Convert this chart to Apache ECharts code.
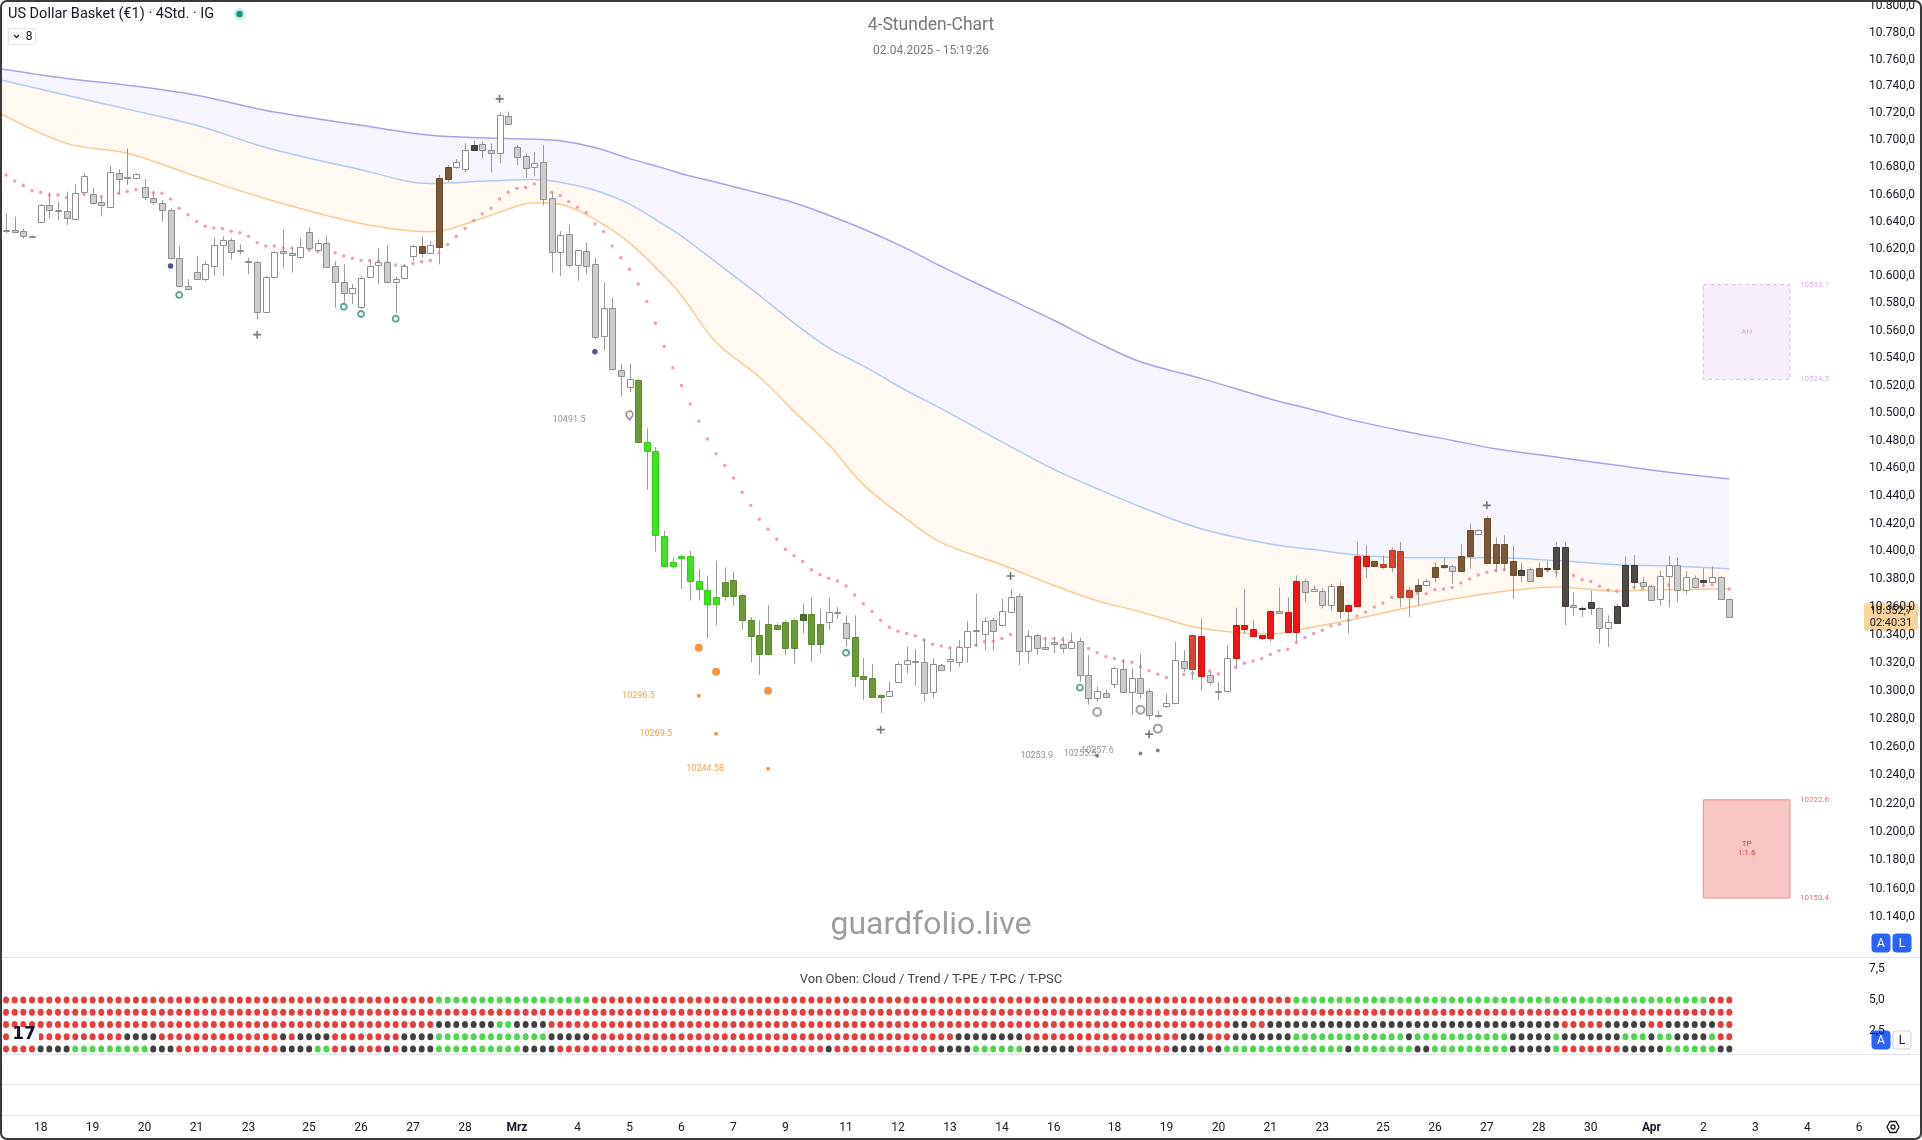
<!DOCTYPE html>
<html><head><meta charset="utf-8">
<script src="https://cdn.jsdelivr.net/npm/echarts@6/dist/echarts.min.js"></script>
<style>html,body{margin:0;padding:0;background:#fff;overflow:hidden}#c{width:1922px;height:1140px}</style>
</head><body><div id="c"></div>
<script>
// ---------- DATA (prices, log-scaled price axis) ----------
const opens = [10634.2,10633.6,10633.0,10629.2,10639.7,10652.0,10648.3,10647.5,10642.2,10661.6,
10660.2,10654.2,10651.1,10675.7,10672.6,10671.9,10665.2,10657.3,10653.7,10648.5,
10613.0,10592.6,10603.1,10597.7,10607.4,10622.5,10626.8,10619.0,10611.0,10610.5,
10573.9,10599.5,10618.7,10617.0,10613.9,10632.3,10619.4,10624.4,10607.4,10595.8,
10587.9,10577.5,10599.4,10608.3,10610.5,10595.8,10598.9,10614.7,10622.3,10617.0,
10621.6,10671.4,10680.5,10678.8,10693.0,10697.0,10693.0,10690.7,10717.8,10695.4,
10688.3,10680.5,10684.3,10657.3,10617.5,10630.9,10607.9,10618.2,10608.6,10556.4,
10576.5,10531.5,10518.9,10524.2,10479.3,10472.1,10411.1,10392.0,10396.8,10396.8,
10378.7,10372.4,10367.0,10367.8,10367.8,10368.7,10350.5,10339.7,10326.2,10347.4,
10349.3,10330.8,10350.5,10355.2,10333.3,10349.3,10356.4,10348.5,10338.6,10310.7,
10309.0,10296.8,10296.0,10306.6,10319.0,10321.4,10320.4,10299.2,10318.5,10321.4,
10320.9,10331.2,10342.6,10340.3,10350.5,10347.4,10356.4,10367.8,10328.4,10339.8,
10331.4,10335.0,10333.8,10330.8,10335.5,10311.3,10294.8,10298.7,10304.7,10315.9,
10299.2,10309.0,10299.6,10283.0,10289.5,10291.3,10321.2,10315.6,10339.3,10311.3,
10299.6,10299.6,10323.6,10346.9,10344.5,10339.8,10338.1,10357.1,10356.4,10342.1,
10378.4,10371.7,10371.7,10361.1,10374.8,10356.8,10360.5,10396.8,10392.7,10390.8,
10389.0,10400.3,10367.0,10371.5,10375.5,10381.3,10390.3,10389.7,10385.6,10396.3,
10412.2,10391.5,10405.1,10391.8,10393.2,10386.8,10387.3,10382.0,10388.3,10387.3,
10403.2,10361.5,10359.5,10359.2,10359.2,10344.9,10348.2,10361.0,10390.2,10377.7,
10375.3,10365.8,10382.5,10390.3,10372.2,10380.6,10379.4,10378.2,10381.3,10365.8];
const highs = [10646.3,10643.7,10634.6,10629.9,10652.8,10661.6,10654.9,10662.1,10667.6,10675.7,
10664.7,10658.5,10681.2,10678.8,10694.2,10675.7,10671.4,10662.8,10656.1,10649.9,
10622.0,10597.7,10614.7,10611.0,10628.5,10629.2,10628.0,10623.2,10613.5,10611.0,
10600.1,10618.2,10634.0,10620.6,10628.0,10635.9,10626.8,10630.0,10611.0,10608.6,
10594.1,10600.0,10611.0,10620.6,10622.8,10599.4,10608.6,10622.8,10629.0,10625.6,
10674.5,10681.7,10686.2,10697.8,10699.8,10699.0,10697.8,10720.9,10721.4,10696.6,
10690.3,10691.5,10696.6,10662.3,10633.0,10637.8,10619.4,10624.4,10613.4,10595.3,
10584.3,10535.8,10535.8,10524.7,10488.9,10475.2,10414.7,10395.6,10397.1,10400.3,
10387.3,10382.5,10393.2,10388.4,10384.9,10369.5,10352.7,10350.5,10361.1,10348.1,
10350.5,10351.6,10362.2,10367.0,10358.7,10367.0,10359.9,10354.0,10354.0,10323.6,
10319.2,10297.7,10306.6,10320.4,10331.4,10329.8,10337.4,10323.1,10319.2,10330.3,
10336.2,10350.0,10369.4,10352.8,10352.1,10365.8,10372.9,10369.5,10343.3,10340.9,
10337.4,10338.6,10338.6,10341.6,10337.9,10325.5,10303.0,10300.8,10317.3,10322.6,
10316.1,10326.2,10301.8,10285.8,10297.7,10335.0,10329.1,10340.3,10352.0,10313.7,
10306.6,10332.6,10359.5,10372.9,10350.5,10340.2,10357.6,10374.1,10367.0,10382.5,
10380.1,10375.3,10373.4,10376.5,10377.7,10362.2,10406.3,10404.4,10393.2,10396.8,
10402.7,10406.8,10374.1,10380.1,10380.1,10392.0,10394.9,10390.2,10405.1,10419.9,
10415.9,10425.3,10409.9,10411.5,10403.9,10392.0,10388.3,10392.0,10393.2,10406.8,
10406.8,10370.5,10360.6,10371.7,10359.7,10354.0,10362.2,10396.3,10397.3,10381.3,
10375.8,10386.1,10396.8,10395.6,10385.6,10382.5,10387.8,10389.2,10382.0,10366.3];
const lows = [10631.6,10631.6,10627.4,10628.4,10639.5,10642.7,10641.4,10637.6,10641.4,10660.9,
10652.5,10643.9,10650.4,10659.7,10667.1,10671.1,10656.1,10652.5,10640.2,10612.3,
10592.2,10590.0,10597.0,10596.0,10600.1,10600.0,10612.2,10615.8,10601.4,10568.5,
10573.4,10598.4,10606.2,10602.6,10612.3,10618.2,10617.0,10606.2,10577.0,10580.6,
10579.4,10575.7,10599.0,10594.1,10594.6,10572.7,10598.4,10611.5,10613.4,10616.4,
10608.6,10669.5,10679.3,10676.4,10692.2,10686.7,10676.4,10683.1,10711.3,10681.7,
10672.6,10673.3,10652.0,10602.6,10600.1,10606.2,10596.5,10601.4,10554.0,10545.5,
10531.1,10511.8,10515.3,10478.1,10444.5,10399.7,10388.5,10387.4,10372.9,10364.6,
10364.6,10337.4,10346.9,10364.5,10361.1,10344.0,10320.4,10311.3,10325.5,10343.3,
10325.5,10319.7,10340.9,10320.9,10326.7,10343.3,10351.6,10331.4,10303.0,10293.7,
10294.8,10284.2,10296.0,10305.9,10312.5,10303.8,10292.4,10294.8,10314.2,10313.7,
10317.3,10320.4,10331.4,10329.1,10329.1,10346.1,10356.4,10318.5,10319.7,10325.5,
10329.1,10326.7,10326.7,10330.3,10306.6,10290.2,10292.4,10294.9,10301.8,10298.4,
10283.0,10294.8,10279.6,10280.8,10287.8,10290.5,10313.7,10307.8,10300.1,10303.8,
10293.6,10299.1,10316.1,10340.9,10338.6,10336.2,10335.0,10355.2,10341.6,10335.0,
10363.5,10371.0,10358.7,10357.6,10351.6,10340.9,10360.5,10380.6,10389.0,10387.3,
10384.9,10359.9,10352.8,10361.0,10374.8,10377.7,10387.3,10376.5,10384.9,10387.3,
10411.5,10390.8,10384.9,10386.1,10365.8,10377.7,10378.2,10381.3,10384.9,10381.3,
10346.9,10354.0,10352.8,10354.4,10333.8,10331.4,10348.0,10360.5,10372.4,10374.8,
10364.9,10361.0,10359.9,10363.5,10369.5,10373.4,10374.8,10377.2,10365.3,10352.0];
const closes = [10633.6,10632.6,10629.2,10629.0,10652.5,10648.5,10647.9,10642.7,10660.9,10674.0,
10653.7,10652.0,10676.4,10671.2,10672.3,10675.0,10657.8,10654.4,10648.7,10613.0,
10592.9,10590.5,10597.7,10608.6,10622.8,10626.8,10617.8,10618.6,10610.8,10573.9,
10599.4,10617.8,10617.0,10615.4,10621.1,10620.6,10624.4,10606.7,10595.3,10587.9,
10591.2,10598.9,10607.4,10610.3,10595.3,10598.2,10607.4,10621.8,10617.3,10622.5,
10671.9,10680.5,10684.3,10693.0,10696.6,10693.0,10691.0,10718.5,10711.8,10687.4,
10679.8,10683.5,10656.8,10617.5,10630.4,10607.9,10619.0,10607.4,10555.2,10576.5,
10532.3,10526.6,10524.9,10478.8,10472.6,10411.8,10389.2,10389.2,10395.3,10378.7,
10372.9,10362.2,10362.0,10378.2,10379.6,10350.5,10339.3,10326.2,10347.6,10344.0,
10330.8,10350.5,10355.2,10333.3,10348.1,10356.4,10356.6,10337.8,10310.8,10308.8,
10295.3,10295.6,10300.1,10319.0,10321.9,10320.4,10298.4,10319.2,10314.9,10323.1,
10331.4,10342.6,10343.7,10349.7,10342.6,10357.1,10367.0,10328.4,10339.1,10330.8,
10329.8,10333.8,10330.8,10335.0,10311.3,10294.8,10299.6,10295.6,10316.6,10299.2,
10309.5,10298.4,10283.0,10282.8,10291.2,10321.9,10316.6,10339.8,10310.8,10306.2,
10299.4,10323.8,10346.9,10344.5,10339.3,10338.1,10357.1,10355.6,10342.1,10378.9,
10370.5,10372.9,10361.1,10374.8,10356.8,10361.1,10396.8,10389.7,10389.7,10389.0,
10401.0,10367.0,10372.4,10375.8,10378.4,10388.5,10388.5,10386.1,10396.8,10415.1,
10415.1,10424.1,10391.5,10405.6,10383.2,10383.2,10378.9,10388.3,10387.1,10403.2,
10361.0,10359.7,10358.7,10363.9,10344.9,10349.2,10360.6,10390.2,10377.7,10375.3,
10365.3,10382.5,10390.3,10372.2,10381.3,10374.1,10378.2,10381.3,10365.8,10352.7];
// candle colour codes: g gray, w white, b brown, d dark, G bright green, o olive, D dark olive, R red, r orange-red
const candleStyle = 'ggggwgggww'+'ggwggwgggg'+'gggwwwgggg'+'wwggwgwggg'+'wwwwgwwwbw'+
'bbwwdggwgg'+'gwggwgwggw'+'ggwoGGGGGG'+'GGGooooooo'+'ooDoowwgoo'+
'oowwwggwgw'+'wwwwgwwgwg'+'gggwggwgwg'+'wgggwwgrRg'+'gwRRRRRgRR'+
'gwgwbRRRbr'+'rrrbwbbgbb'+'wbbbbdgbdd'+'dgddgwdddg'+'gwwgwgdwgg';
// pink dotted average
const pinkDots = [10674.5,10670.0,10666.6,10662.8,10661.6,10659.7,10659.7,10657.8,10659.7,10660.2,
10659.0,10658.5,10659.2,10660.9,10662.3,10663.5,10661.6,10660.9,10660.9,10656.6,
10649.9,10645.1,10640.2,10636.6,10635.4,10634.9,10633.0,10631.8,10629.2,10624.4,
10622.0,10622.0,10620.6,10620.6,10619.4,10619.4,10618.2,10619.0,10617.1,10614.7,
10613.0,10611.5,10611.5,10611.0,10609.8,10608.1,10607.4,10609.3,10610.5,10611.5,
10617.0,10623.2,10629.0,10634.9,10640.7,10645.8,10649.9,10656.6,10661.6,10664.7,
10665.2,10667.8,10667.1,10661.6,10659.2,10654.9,10650.6,10646.8,10638.3,10632.6,
10622.0,10613.5,10605.0,10594.1,10581.4,10565.4,10548.4,10532.9,10520.1,10506.5,
10494.1,10481.2,10470.4,10462.0,10452.9,10442.6,10433.0,10423.0,10415.9,10408.7,
10401.5,10396.8,10392.7,10386.8,10383.2,10380.6,10378.7,10375.0,10368.5,10362.3,
10356.8,10350.5,10345.4,10342.6,10340.9,10339.3,10336.2,10333.3,10332.1,10330.8,
10330.8,10331.4,10332.6,10335.0,10335.5,10337.4,10340.3,10339.3,10338.6,10338.6,
10337.4,10337.4,10336.7,10335.5,10334.5,10330.3,10327.2,10324.3,10323.1,10321.2,
10320.4,10317.3,10314.4,10311.8,10309.5,10312.5,10311.6,10312.5,10312.9,10314.2,
10312.0,10314.9,10316.6,10319.7,10321.4,10323.1,10326.0,10328.6,10329.8,10334.5,
10338.1,10340.9,10343.3,10346.4,10347.6,10350.4,10353.5,10356.3,10359.9,10362.9,
10367.0,10368.2,10369.4,10369.9,10369.4,10372.4,10372.9,10373.9,10377.2,10380.1,
10383.0,10384.9,10386.1,10386.8,10386.8,10386.1,10386.1,10386.1,10386.1,10384.9,
10383.7,10382.5,10379.6,10378.2,10374.8,10372.2,10371.2,10372.2,10374.1,10373.4,
10374.1,10374.8,10375.8,10375.4,10375.4,10375.4,10375.3,10376.0,10375.3,10372.9];
// cloud lines read at common bar positions
const cloudX     = [-0.7,7,14,22,30,41,49,56,61,64,68,72,76,78,82,87,91,95,99,104,108,115,121,126,131,138,146,151,156,162,167,172,179,186,192,199];
const purpleLine = [10753.2,10746.0,10741.0,10733.5,10722.2,10711.2,10703.8,10701.8,10700.8,10699.8,10694.8,10686.5,10679.3,10675.3,10669.1,10660.9,10653.9,10644.7,10634.6,10620.2,10607.1,10585.8,10567.6,10551.5,10537.3,10525.2,10510.2,10502.2,10494.1,10486.1,10480.1,10474.1,10468.1,10462.1,10457.1,10452.1];
const blueLine   = [10745.0,10733.5,10723.2,10711.2,10694.8,10678.3,10668.1,10670.1,10671.1,10669.1,10663.1,10652.9,10637.6,10629.4,10610.1,10585.8,10565.6,10547.4,10534.3,10516.2,10503.2,10479.1,10459.1,10445.1,10432.1,10416.2,10405.2,10401.2,10397.3,10395.3,10395.3,10395.3,10393.3,10390.3,10389.4,10387.4];
const orangeLine = [10720.2,10697.8,10690.5,10673.3,10656.9,10638.6,10632.6,10644.7,10653.9,10652.9,10641.7,10624.4,10600.0,10585.8,10551.5,10526.2,10501.2,10477.1,10448.1,10423.1,10406.2,10390.3,10375.4,10364.5,10356.6,10344.7,10340.7,10345.7,10351.6,10359.6,10365.5,10370.4,10374.4,10371.4,10372.4,10372.9];
// markers
const crossIdx = [29,57,101,116,132,171];
const crossVal = [10557.1,10730.8,10272.4,10382.2,10269.2,10433.1];
const tealIdx = [20,39,41,45,97,124];
const tealVal = [10586.2,10577.5,10572.2,10568.8,10327.2,10302.3];
const navyIdx = [19,68];
const navyVal = [10607.4,10544.6];
const ringIdx = [126,131,133];
const ringVal = [10284.9,10286.5,10273.1];
const orangeBigIdx = [80,82,88];
const orangeBigVal = [10330.8,10313.7,10300.1];
const orangeLblIdx = [80,82,88];
const orangeLblVal = [10296.5,10269.5,10244.58];
const grayLblIdx = [126,131,133];
const grayLblVal = [10253.9,10255.5,10257.6];
const pinIdx = [72];
const pinVal = [10491.5];
// boxes
const boxText = ['AH','TP\n1:1.6'];
const boxStart = [196,196];
const boxEnd = [206,206];
const boxTop = [10593.7,10222.6];
const boxBottom = [10524.5,10153.4];
// indicator rows (run lengths, top row first)
const row1Runs = [['r',50],['g',18],['r',81],['g',48],['r',3]];
const row2Runs = [['r',200]];
const row3Runs = [['r',50],['k',7],['g',2],['k',4],['r',79],['k',2],['r',2],['k',34],['r',5],['k',5],['r',2],['k',6],['r',2]];
const row4Runs = [['r',14],['k',4],['r',14],['k',1],['r',1],['k',4],['r',8],['k',4],['g',13],['k',5],['r',42],['k',8],['r',18],['k',3],['r',3],['k',7],['g',13],['k',1],['g',11],['k',5],['g',1],['k',7],['g',3],['k',1],['g',2],['k',4],['g',1],['r',2]];
const row5Runs = [['r',4],['k',4],['g',9],['k',3],['r',12],['k',4],['g',2],['r',2],['k',1],['r',3],['k',1],['r',1],['k',4],['g',10],['k',4],['r',31],['k',1],['r',12],['k',4],['g',6],['k',6],['r',11],['k',4],['r',1],['k',1],['g',14],['k',1],['g',7],['k',2],['g',9],['k',5],['g',1],['r',7],['k',5],['g',6],['k',2]];
const rowValues = [5,4,3,2,1];
// axis ticks
const tickBars = [4,10,16,22,28,35,41,47,53,59,66,72,78,84,90,97,103,109,115,121,128,134,140,146,152,159,165,171,177,183,190,196,202,208,214];
const tickLabels = ['18','19','20','21','23','25','26','27','28','Mrz','4','5','6','7','9','11','12','13','14','16','18','19','20','21','23','25','26','27','28','30','Apr','2','3','4','6'];
const priceTicks = [10140,10160,10180,10200,10220,10240,10260,10280,10300,10320,10340,10360,10380,10400,10420,10440,10460,10480,10500,10520,10540,10560,10580,10600,10620,10640,10660,10680,10700,10720,10740,10760,10780,10800];
const indTicks = [2.5,5,7.5];
const indTickLabels = ['2,5','5,0','7,5'];
const lastTime = '02:40:31';

// ---------- CHART ----------
const FONT = 'Roboto, "Noto Sans", sans-serif';
const L = Math.log;
const X_MIN = -0.693, X_MAX = 214.55;
const tickMap = {}; tickBars.forEach((b, k) => tickMap[b] = tickLabels[k]);
const styleMap = {
  g:['#cdcdcd','#8e8e8e'], w:['#ffffff','#8e8e8e'], b:['#7c5936','#6a4a2b'], d:['#4e4b46','#3e3b37'],
  G:['#3de31c','#34cc17'], o:['#6a9a36','#5b8a2c'], D:['#506b2f','#445d27'], R:['#f01414','#d61010'], r:['#d4472c','#c03a23']
};
const dotColor = {r:'#e30d0d', g:'#22cc22', k:'#111111'};
function fmtPrice(v){
  const p = Math.round(Math.exp(v));
  if (p < 10140 || p > 10800) return '';
  const th = Math.floor(p/1000), r = p - th*1000;
  return th + '.' + String(r).padStart(3,'0') + ',0';
}
function fmtGerman(v){
  const th = Math.floor(v/1000), r = v - th*1000;
  const s = r.toFixed(1).split('.');
  return th + '.' + s[0].padStart(3,'0') + ',' + s[1];
}
const dotData = [];
[row1Runs,row2Runs,row3Runs,row4Runs,row5Runs].forEach((runs, r) => {
  let i = 0;
  runs.forEach(([c, n]) => { for (let k = 0; k < n; k++, i++) dotData.push({value:[i, rowValues[r]], itemStyle:{color: dotColor[c]}}); });
});
const candleData = opens.map((o, i) => [i, L(o), L(closes[i]), L(lows[i]), L(highs[i])]);
const pair = (idx, val) => idx.map((x, k) => [x, L(val[k])]);
const linePts = arr => cloudX.map((x, k) => [x, L(arr[k])]);

const chart = echarts.init(document.getElementById('c'), null, {renderer:'canvas', width:1922, height:1140});
const baseX = g => ({type:'value', gridIndex:g, min:X_MIN, max:X_MAX, axisLine:{show:false}, axisTick:{show:false}, axisLabel:{show:false}, splitLine:{show:false}});
const option = {
  animation:false,
  backgroundColor:'#ffffff',
  textStyle:{fontFamily:FONT},
  grid:[
    {left:0, right:58, top:0, height:945.6},
    {left:0, right:58, top:938.75, height:122.5},
    {left:0, right:58, top:1084, height:31}
  ],
  xAxis:[baseX(0), baseX(1), Object.assign(baseX(2), {axisLabel:{show:true, margin:7, fontSize:12, color:'#131722', fontFamily:FONT,
    customValues: tickBars, showMinLabel:true, showMaxLabel:true,
    formatter:(value) => { const t = tickMap[Math.round(value)]; if (t === undefined) return ''; return /[A-Za-z]/.test(t) ? '{m|' + t + '}' : t; },
    rich:{m:{fontWeight:'bold', fontSize:12, color:'#131722', fontFamily:FONT}}}})],
  yAxis:[
    {type:'value', gridIndex:0, position:'right', min:L(10120), max:L(10800), scale:true, axisLine:{show:false}, axisTick:{show:false}, splitLine:{show:false},
      axisLabel:{color:'#131722', fontSize:12, margin:5, fontFamily:FONT, customValues: priceTicks.map(L), showMinLabel:true, showMaxLabel:true, formatter:fmtPrice}},
    {type:'value', gridIndex:1, position:'right', min:0, max:10, axisLine:{show:false}, axisTick:{show:false}, splitLine:{show:false},
      axisLabel:{color:'#131722', fontSize:12, margin:5, fontFamily:FONT, customValues: indTicks, formatter:v => { const k = indTicks.indexOf(v); return k < 0 ? '' : indTickLabels[k]; }}},
    {type:'value', gridIndex:2, show:false, min:0, max:1}
  ],
  series:[
    // cloud fills between the three averages
    {type:'custom', data:[[0, L(orangeLine[0])]], encode:{x:0, y:1}, z:1, clip:true, silent:true,
      renderItem:(params, api) => {
        const P = linePts(purpleLine).map(p => api.coord(p));
        const B = linePts(blueLine).map(p => api.coord(p));
        const O = linePts(orangeLine).map(p => api.coord(p));
        return {type:'group', children:[
          {type:'polygon', shape:{points: P.concat(B.slice().reverse())}, style:{fill:'rgba(150,140,235,0.09)'}},
          {type:'polygon', shape:{points: B.concat(O.slice().reverse())}, style:{fill:'rgba(253,196,130,0.10)'}}
        ]};
      }},
    {type:'line', data: linePts(orangeLine), smooth:0.35, symbol:'none', silent:true, lineStyle:{color:'#f8ca90', width:1.5}, z:1},
    {type:'line', data: linePts(blueLine), smooth:0.35, symbol:'none', silent:true, lineStyle:{color:'#b0cbf1', width:1.5}, z:1},
    {type:'line', data: linePts(purpleLine), smooth:0.35, symbol:'none', silent:true, lineStyle:{color:'#a8a2ec', width:1.5}, z:1},
    {type:'scatter', data: pinkDots.map((v,i)=>[i, L(v)]), symbolSize:3.5, itemStyle:{color:'#ee86a3'}, z:2, silent:true},
    {type:'custom', data: candleData, encode:{x:0, y:[1,2,3,4]}, z:3, clip:true,
      renderItem:(params, api) => {
        const i = params.dataIndex;
        const st = styleMap[candleStyle[i]] || styleMap.g;
        const po = api.coord([i, L(opens[i])]), pc = api.coord([i, L(closes[i])]);
        const pl = api.coord([i, L(lows[i])]), ph = api.coord([i, L(highs[i])]);
        const x = Math.round(po[0]) + 0.5;
        const w = 5;
        const top = Math.round(Math.min(po[1], pc[1])) + 0.5;
        const bot = Math.round(Math.max(po[1], pc[1])) + 0.5;
        return {type:'group', children:[
          {type:'line', shape:{x1:x, y1:ph[1], x2:x, y2:pl[1]}, style:{stroke:'#9a9a9a', lineWidth:1}},
          {type:'rect', shape:{x:x - w/2 - 0.5, y:top, width:w + 1, height:Math.max(bot - top, 1)}, style:{fill:st[0], stroke:st[1], lineWidth:1}}
        ]};
      }},
    {type:'scatter', data: pair(crossIdx, crossVal), symbol:'path://M4,0h2v4h4v2h-4v4h-2v-4h-4v-2h4z', symbolSize:8, itemStyle:{color:'#555'}, z:4},
    {type:'scatter', data: pair(tealIdx, tealVal), symbol:'circle', symbolSize:6, itemStyle:{color:'#fff', borderColor:'#2b8a7c', borderWidth:1.8}, z:4},
    {type:'scatter', data: pair(navyIdx, navyVal), symbol:'circle', symbolSize:5.5, itemStyle:{color:'#1b2a86'}, z:4},
    {type:'scatter', data: pair(ringIdx, ringVal), symbol:'circle', symbolSize:8, itemStyle:{color:'#fff', borderColor:'#8a8a8a', borderWidth:2}, z:4},
    {type:'scatter', data: pair(orangeBigIdx, orangeBigVal), symbol:'circle', symbolSize:8, itemStyle:{color:'#f57c0e'}, z:4},
    {type:'scatter', data: pair(orangeLblIdx, orangeLblVal), symbol:'circle', symbolSize:4, itemStyle:{color:'#f57c0e'}, z:4,
      label:{show:true, position:'left', distance:42, color:'#f08a1c', fontSize:9, fontFamily:FONT, formatter:p => String(orangeLblVal[p.dataIndex])}},
    {type:'scatter', data: pair(grayLblIdx, grayLblVal), symbol:'circle', symbolSize:4, itemStyle:{color:'#666'}, z:4,
      label:{show:true, position:'left', distance:42, color:'#777', fontSize:9, fontFamily:FONT, formatter:p => String(grayLblVal[p.dataIndex])}},
    {type:'scatter', data: pair(pinIdx, pinVal), symbol:'pin', symbolSize:11, symbolOffset:[0,-4], itemStyle:{color:'#fff', borderColor:'#777', borderWidth:1.5}, z:4,
      label:{show:true, position:'left', distance:40, offset:[0,4], color:'#777', fontSize:9, fontFamily:FONT, formatter:p => String(pinVal[p.dataIndex])}},
    {type:'custom', data: boxText.map((t,k)=>[boxStart[k], L(boxTop[k]), boxEnd[k], L(boxBottom[k])]), encode:{x:[0,2], y:[1,3]}, z:2, clip:false,
      renderItem:(params, api) => {
        const k = params.dataIndex;
        const p1 = api.coord([boxStart[k], L(boxTop[k])]), p2 = api.coord([boxEnd[k], L(boxBottom[k])]);
        const isTP = k === 1;
        const fill = isTP ? 'rgba(240,100,100,0.37)' : 'rgba(215,170,235,0.20)';
        const stroke = isTP ? '#ef8a8a' : '#e2b4ea';
        const lbl = isTP ? '#e57373' : '#dcb4e4';
        const txt = isTP ? '#e53935' : '#d4a8dc';
        return {type:'group', children:[
          {type:'rect', shape:{x:p1[0], y:p1[1], width:p2[0]-p1[0], height:p2[1]-p1[1]}, style:{fill, stroke, lineWidth:1, lineDash: isTP ? null : [4,3]}},
          {type:'text', x:(p1[0]+p2[0])/2, y:(p1[1]+p2[1])/2, style:{text:boxText[k], fill:txt, fontSize:8, fontFamily:FONT, align:'center', verticalAlign:'middle', lineHeight:9}},
          {type:'text', x:p2[0]+10, y:p1[1], style:{text:boxTop[k].toFixed(1), fill:lbl, fontSize:8, fontFamily:FONT, align:'left', verticalAlign:'middle'}},
          {type:'text', x:p2[0]+10, y:p2[1], style:{text:boxBottom[k].toFixed(1), fill:lbl, fontSize:8, fontFamily:FONT, align:'left', verticalAlign:'middle'}}
        ]};
      }},
    {type:'scatter', xAxisIndex:1, yAxisIndex:1, data: dotData, symbol:'circle', symbolSize:[6,7], z:3, silent:true}
  ]
};
chart.setOption(option);

const lastIdx = closes.length - 1;
const py = chart.convertToPixel({xAxisIndex:0, yAxisIndex:0}, [lastIdx, L(closes[lastIdx])])[1];
const sepLine = y => ({type:'line', shape:{x1:0, y1:y+0.5, x2:1922, y2:y+0.5}, style:{stroke:'#e0e3eb', lineWidth:1}, z:1});
const btn = (x, y, letter, active) => ({type:'group', x, y, z:20, children:[
  {type:'rect', shape:{x:0, y:0, width:18, height:18, r:3}, style:{fill: active ? '#2962ff' : '#ffffff', stroke: active ? '#2962ff' : '#d1d4dc', lineWidth:1}},
  {type:'text', x:9, y:9.5, style:{text:letter, fill: active ? '#ffffff' : '#131722', fontSize:12, fontFamily:FONT, align:'center', verticalAlign:'middle'}}
]});
chart.setOption({graphic:[
  sepLine(957), sepLine(1054), sepLine(1084), sepLine(1115),
  {type:'text', x:8, y:14, z:10, style:{text:'US Dollar Basket (€1) · 4Std. · IG', fill:'#131722', fontSize:14.5, fontFamily:FONT, verticalAlign:'middle'}},
  {type:'circle', shape:{cx:239.5, cy:14, r:6}, style:{fill:'rgba(8,153,129,0.18)'}, z:10},
  {type:'circle', shape:{cx:239.5, cy:14, r:3.2}, style:{fill:'#089981'}, z:10},
  {type:'rect', shape:{x:8.5, y:28.5, width:27, height:16, r:2}, style:{fill:'#fff', stroke:'#e0e3eb', lineWidth:1}, z:10},
  {type:'polyline', shape:{points:[[14,35],[16.5,37.5],[19,35]]}, style:{stroke:'#131722', lineWidth:1.2, fill:null}, z:10},
  {type:'text', x:29, y:37, z:10, style:{text:'8', fill:'#131722', fontSize:12, fontFamily:FONT, align:'center', verticalAlign:'middle'}},
  {type:'text', x:931, y:26, z:10, style:{text:'4-Stunden-Chart', fill:'#787878', fontSize:17.5, fontFamily:FONT, align:'center', verticalAlign:'middle'}},
  {type:'text', x:931, y:51, z:10, style:{text:'02.04.2025 - 15:19:26', fill:'#787878', fontSize:12, fontFamily:FONT, align:'center', verticalAlign:'middle'}},
  {type:'text', x:931, y:926, z:10, style:{text:'guardfolio.live', fill:'#9e9e9e', fontSize:32, fontFamily:FONT, align:'center', verticalAlign:'middle'}},
  {type:'text', x:931, y:979.5, z:10, style:{text:'Von Oben: Cloud / Trend / T-PE / T-PC / T-PSC', fill:'#444', fontSize:13, fontFamily:FONT, align:'center', verticalAlign:'middle'}},
  {type:'rect', shape:{x:9, y:1027, width:30, height:15}, style:{fill:'#fff'}, z:10},
  {type:'text', x:24, y:1035, z:11, style:{text:'17', fill:'#131722', fontSize:17, fontWeight:'bold', fontFamily:'"DejaVu Sans"', align:'center', verticalAlign:'middle'}},
  btn(1872, 934, 'A', true), btn(1893, 934, 'L', true),
  btn(1872, 1031, 'A', true), btn(1893, 1031, 'L', false),
  {type:'polygon', shape:{points:[[1887,1127],[1890,1121.5],[1896,1121.5],[1899,1127],[1896,1132.5],[1890,1132.5]]}, style:{fill:'none', stroke:'#131722', lineWidth:1.3}, z:10},
  {type:'circle', shape:{cx:1893, cy:1127, r:2}, style:{fill:'none', stroke:'#131722', lineWidth:1.3}, z:10},
  {type:'group', x:1864, y:Math.round(py) - 13.5, z:15, children:[
    {type:'rect', shape:{x:0, y:0, width:54, height:27, r:2}, style:{fill:'#fdd49c'}},
    {type:'text', x:27, y:8, style:{text:fmtGerman(closes[lastIdx]), fill:'#131722', fontSize:11, fontFamily:FONT, align:'center', verticalAlign:'middle'}},
    {type:'text', x:27, y:20, style:{text:lastTime, fill:'#131722', fontSize:11, fontFamily:FONT, align:'center', verticalAlign:'middle'}}
  ]},
  {type:'rect', shape:{x:1, y:1, width:1920, height:1138, r:6}, style:{fill:'none', stroke:'#3a3a3a', lineWidth:2}, z:30}
]});
</script>
</body></html>
